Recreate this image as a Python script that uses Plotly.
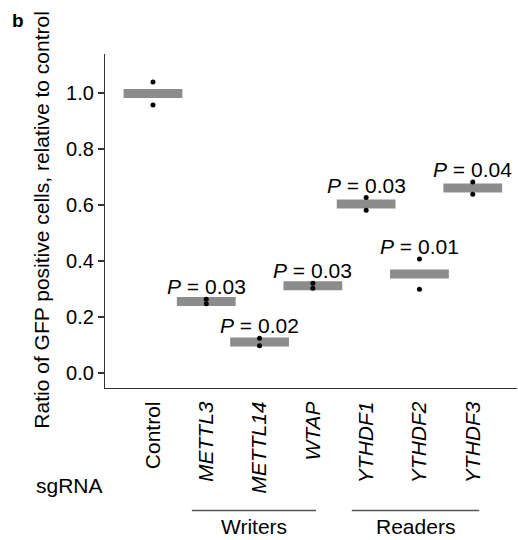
import numpy as np
import plotly.graph_objects as go

categories = ["Control", "METTL3", "METTL14", "WTAP", "YTHDF1", "YTHDF2", "YTHDF3"]
italic = [False, True, True, True, True, True, True]
rep1 = [1.039, 0.263, 0.124, 0.320, 0.626, 0.407, 0.682]
rep2 = [0.957, 0.247, 0.097, 0.302, 0.581, 0.299, 0.638]
p_labels = ["", "0.03", "0.02", "0.03", "0.03", "0.01", "0.04"]
y_ticks = [0.0, 0.2, 0.4, 0.6, 0.8, 1.0]

FONT = "Liberation Sans, Arial, Helvetica, sans-serif"
xs = list(range(len(categories)))
means = [(a + b) / 2 for a, b in zip(rep1, rep2)]

fig = go.Figure()
# mean crossbars
fig.add_trace(go.Scatter(
    x=xs, y=means, mode="markers",
    marker=dict(symbol="line-ew", size=42, line=dict(width=9, color="#8C8C8C")),
    hoverinfo="skip", showlegend=False))
# replicate dots
fig.add_trace(go.Scatter(
    x=xs + xs, y=rep1 + rep2, mode="markers",
    marker=dict(symbol="circle", size=5, color="black"),
    showlegend=False))

ticktext = [f"<i>{c}</i>" if it else c for c, it in zip(categories, italic)]

annotations = []
for x, a, b, p in zip(xs, rep1, rep2, p_labels):
    if p:
        annotations.append(dict(
            x=x, y=max(a, b), xref="x", yref="y", text=f"<i>P</i> = {p}",
            showarrow=False, xanchor="center", yanchor="bottom", yshift=-1,
            font=dict(size=21, color="black", family=FONT)))

annotations += [
    dict(x=-0.153, y=0.504, xref="paper", yref="paper",
         text="Ratio of GFP positive cells, relative to control", textangle=-90,
         showarrow=False, xanchor="center", yanchor="middle",
         font=dict(size=21, color="black", family=FONT)),
    dict(x=-0.085, y=-0.293, xref="paper", yref="paper", text="sgRNA",
         showarrow=False, xanchor="center", yanchor="middle",
         font=dict(size=21, color="black", family=FONT)),
    dict(x=1.895, y=-0.416, xref="x", yref="paper", text="Writers",
         showarrow=False, xanchor="center", yanchor="middle",
         font=dict(size=21, color="black", family=FONT)),
    dict(x=4.925, y=-0.416, xref="x", yref="paper", text="Readers",
         showarrow=False, xanchor="center", yanchor="middle",
         font=dict(size=21, color="black", family=FONT)),
    dict(x=-0.211, y=1.099, xref="paper", yref="paper", text="<b>b</b>",
         showarrow=False, xanchor="center", yanchor="middle",
         font=dict(size=19, color="black", family=FONT)),
]

shapes = [
    dict(type="line", xref="x", yref="paper", x0=0.73, x1=3.06, y0=-0.367, y1=-0.367,
         line=dict(color="#555555", width=1.5)),
    dict(type="line", xref="x", yref="paper", x0=3.73, x1=6.12, y0=-0.367, y1=-0.367,
         line=dict(color="#555555", width=1.5)),
]

fig.update_layout(
    width=518, height=540,
    margin=dict(l=105, r=1, t=54, b=152),
    paper_bgcolor="white", plot_bgcolor="white",
    font=dict(family=FONT, color="black"),
    annotations=annotations, shapes=shapes,
    xaxis=dict(range=[-0.9, 6.83], tickvals=xs, ticktext=ticktext, tickangle=-90,
               showline=True, linecolor="#333333", linewidth=1.2, ticks="",
               ticklabelstandoff=4,
               showgrid=False, zeroline=False, tickfont=dict(size=21, color="black")),
    yaxis=dict(range=[-0.054, 1.139], tickvals=y_ticks, tickformat=".1f",
               showline=True, linecolor="#333333", linewidth=1.2, ticks="outside",
               ticklen=6, tickwidth=1.5, tickcolor="#333333",
               showgrid=False, zeroline=False, tickfont=dict(size=20, color="black")),
)

fig.write_html("out.html")
